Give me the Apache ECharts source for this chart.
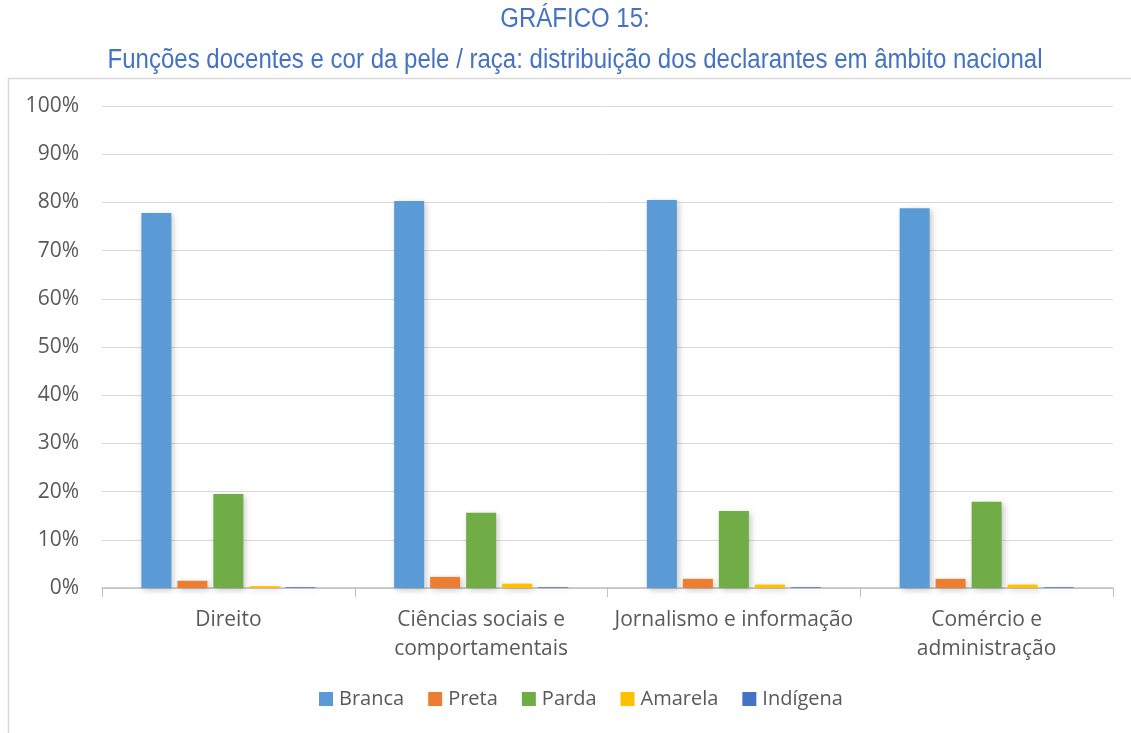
<!DOCTYPE html>
<html>
<head>
<meta charset="utf-8">
<style>
  html, body { margin: 0; padding: 0; background: #fff; }
  #chart { width: 1131px; height: 733px; }
</style>
<script src="https://cdn.jsdelivr.net/npm/echarts@6/dist/echarts.min.js"></script>
</head>
<body>
<div id="chart"></div>
<script>
  // categorias e valores (%)
  var categories = ['Direito', 'Ciências sociais e\ncomportamentais', 'Jornalismo e informação', 'Comércio e\nadministração'];
  var branca   = [77.8, 80.3, 80.5, 78.8];
  var preta    = [1.5, 2.3, 1.9, 1.9];
  var parda    = [19.5, 15.6, 16.0, 17.9];
  var amarela  = [0.4, 0.9, 0.7, 0.7];
  var indigena = [0.15, 0.15, 0.15, 0.15];
  var yTicks   = [0, 10, 20, 30, 40, 50, 60, 70, 80, 90, 100];
  var titleLines = ['GRÁFICO 15:', 'Funções docentes e cor da pele / raça: distribuição dos declarantes em âmbito nacional'];

  var names  = ['Branca', 'Preta', 'Parda', 'Amarela', 'Indígena'];
  var colors = ['#5b9bd5', '#ed7d31', '#70ad47', '#ffc000', '#4472c4'];
  var values = [branca, preta, parda, amarela, indigena];

  var labelFont = '"Open Sans", "Noto Sans", sans-serif';
  var titleFont = '"Liberation Sans", Arial, sans-serif';

  var series = names.map(function (n, i) {
    return {
      name: n,
      type: 'bar',
      data: values[i],
      barWidth: 30,
      barGap: '20%',
      itemStyle: {
        color: colors[i],
        shadowColor: 'rgba(0,0,0,0.22)',
        shadowBlur: 6,
        shadowOffsetX: 2,
        shadowOffsetY: 2
      }
    };
  });

  // título em fonte "estreita": texto real com escala horizontal
  function titleText(str, y) {
    return {
      type: 'text', silent: true,
      x: 575, y: y, scaleX: 0.89,
      style: {
        text: str, x: 0, y: 0,
        align: 'center', verticalAlign: 'middle',
        font: 'normal 27px ' + titleFont,
        fill: '#4472c4'
      }
    };
  }

  var chart = echarts.init(document.getElementById('chart'));
  chart.setOption({
    animation: false,
    backgroundColor: '#fff',
    color: colors,
    graphic: [
      {
        type: 'rect', silent: true, z: -1,
        shape: { x: 8.5, y: 78.5, width: 1300, height: 800 },
        style: { fill: 'none', stroke: '#d9d9d9', lineWidth: 1.5 }
      },
      titleText(titleLines[0], 20),
      titleText(titleLines[1], 61)
    ],
    legend: {
      data: names,
      bottom: 19, left: 314,
      itemWidth: 14, itemHeight: 14, itemGap: 24,
      icon: 'rect',
      textStyle: { fontFamily: labelFont, fontSize: 20, color: '#595959', padding: [0, 0, 0, 1] }
    },
    grid: { left: 102, right: 18, top: 106, bottom: 145, containLabel: false },
    xAxis: {
      type: 'category',
      data: categories,
      axisLine: { lineStyle: { color: '#bfbfbf', width: 1.5 } },
      axisTick: { show: true, length: 9, lineStyle: { color: '#bfbfbf' } },
      axisLabel: { fontFamily: labelFont, fontSize: 21, color: '#595959', margin: 18, lineHeight: 29, interval: 0 }
    },
    yAxis: {
      type: 'value',
      min: yTicks[0], max: yTicks[yTicks.length - 1], interval: 10,
      axisLine: { show: false },
      axisTick: { show: false },
      splitLine: { lineStyle: { color: '#d9d9d9', width: 1 } },
      axisLabel: { fontFamily: labelFont, fontSize: 21, color: '#595959', margin: 23, formatter: '{value}%' }
    },
    series: series
  });
</script>
</body>
</html>
